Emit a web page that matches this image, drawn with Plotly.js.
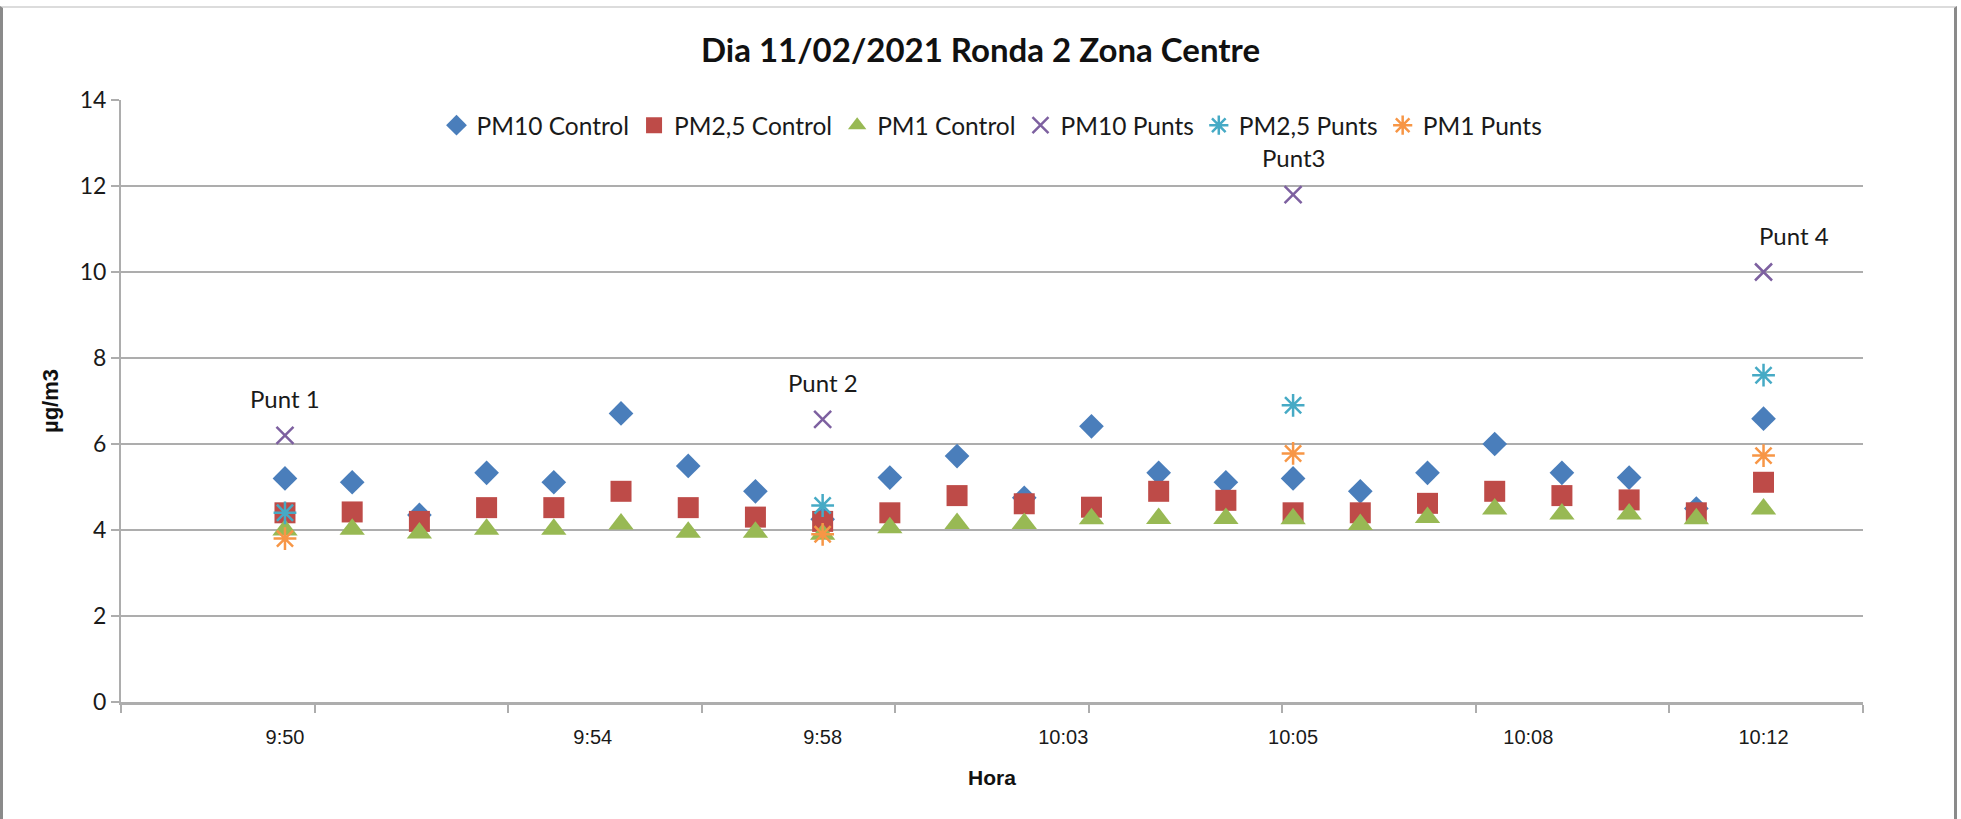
<!DOCTYPE html>
<html><head><meta charset="utf-8">
<script src="https://cdn.plot.ly/plotly-3.0.1.min.js"></script>
<style>
html,body{margin:0;padding:0;background:#fff;overflow:hidden;}
#chart{width:1961px;height:819px;}
#frame{position:absolute;left:0;top:6px;width:1957px;height:820px;border-left:3px solid #8a8a8a;border-right:3px solid #8a8a8a;border-top:2px solid #dcdcdc;pointer-events:none;box-sizing:border-box;}
</style></head><body>
<div id="chart"></div><div id="frame"></div>
<script>
// sample index of each measurement (x position along the route)
const sample = [0,1,2,3,4,5,6,7,8,9,10,11,12,13,14,15,16,17,18,19,20,21,22];
const pm10Control = [5.2,5.11,4.35,5.33,5.11,6.71,5.49,4.9,4.25,5.22,5.72,4.75,6.41,5.33,5.11,5.2,4.9,5.33,6.0,5.33,5.22,4.5,6.59];
const pm25Control = [4.4,4.42,4.2,4.52,4.52,4.9,4.52,4.3,4.2,4.4,4.8,4.61,4.53,4.9,4.69,4.4,4.4,4.62,4.9,4.8,4.7,4.4,5.11];
const pm1Control  = [4.0,4.02,3.93,4.02,4.02,4.14,3.95,3.95,3.9,4.05,4.15,4.15,4.26,4.27,4.27,4.26,4.13,4.29,4.49,4.37,4.37,4.26,4.49];

const puntSample = [0,8,15,22];
const puntLabels = ['Punt 1','Punt 2','Punt3','Punt 4'];
const pm10Punts = [6.2,6.57,11.8,10.0];
const pm25Punts = [4.4,4.57,6.9,7.6];
const pm1Punts  = [3.8,3.9,5.78,5.73];

const timeTickPos  = [0,4.58,8,11.58,15,18.5,22];
const timeTickText = ['9:50','9:54','9:58','10:03','10:05','10:08','10:12'];

const xRange = [-2.44,23.48];
const calibriLike = 'Lato, "Open Sans", sans-serif';
const arialLike = '"Liberation Sans", Arial, sans-serif';

const traces = [
  {name:'PM10 Control', x:sample, y:pm10Control, type:'scatter', mode:'markers',
   marker:{symbol:'diamond', size:19, color:'#4a7ebb'}},
  {name:'PM2,5 Control', x:sample, y:pm25Control, type:'scatter', mode:'markers',
   marker:{symbol:'square', size:21, color:'#be4b48'}},
  {name:'PM1 Control', x:sample, y:pm1Control, type:'scatter', mode:'markers',
   marker:{symbol:'triangle-up', size:22, color:'#98b954'}},
  {name:'PM10 Punts', x:puntSample, y:pm10Punts, type:'scatter', mode:'markers', xaxis:'x2',
   marker:{symbol:'x-thin-open', size:17, color:'#7d60a0', line:{width:2.5, color:'#7d60a0'}}},
  {name:'PM2,5 Punts', x:puntSample, y:pm25Punts, type:'scatter', mode:'markers', xaxis:'x2',
   marker:{symbol:'asterisk-open', size:19, color:'#46aac5', line:{width:2.5, color:'#46aac5'}}},
  {name:'PM1 Punts', x:puntSample, y:pm1Punts, type:'scatter', mode:'markers', xaxis:'x2',
   marker:{symbol:'asterisk-open', size:19, color:'#f79646', line:{width:2.5, color:'#f79646'}}}
];

const labelShift = [0,0,0,30];
const annotations = puntLabels.map((t,i)=>({
  text:t, x:puntSample[i], y:pm10Punts[i], xref:'x', yref:'y',
  showarrow:false, yshift:37, xshift:labelShift[i],
  font:{family:calibriLike, size:24, color:'#1a1a1a'}
}));

const gridCol = '#adadad';
const layout = {
  width:1961, height:819,
  margin:{l:121, r:98, t:100, b:117},
  paper_bgcolor:'#ffffff', plot_bgcolor:'#ffffff',
  font:{family:calibriLike, color:'#1a1a1a'},
  title:{text:'Dia 11/02/2021 Ronda 2 Zona Centre', x:0.5, xanchor:'center',
         y:1-50/819, yanchor:'middle', yref:'container',
         font:{family:calibriLike, size:33, weight:'bold', color:'#111'}},
  showlegend:true,
  legend:{orientation:'h', x:0.5, xanchor:'center', y:0.958, yanchor:'middle',
          bgcolor:'rgba(0,0,0,0)', font:{family:calibriLike, size:24.5, color:'#1a1a1a'},
          itemwidth:30, traceorder:'normal'},
  xaxis:{range:xRange, tickmode:'linear', tick0:xRange[0], dtick:2.88,
         ticks:'outside', ticklen:8, tickwidth:2, tickcolor:gridCol,
         showticklabels:false, showgrid:false, zeroline:false,
         showline:true, linecolor:gridCol, linewidth:2.5},
  xaxis2:{range:xRange, overlaying:'x', anchor:'y', side:'bottom',
          tickmode:'array', tickvals:timeTickPos, ticktext:timeTickText,
          ticks:'', showgrid:false, zeroline:false, showline:false,
          ticklabelstandoff:21,
          tickfont:{family:arialLike, size:20, color:'#1a1a1a'},
          title:{text:'Hora', standoff:23, font:{family:arialLike, size:21, weight:'bold', color:'#111'}}},
  yaxis:{range:[0,14], dtick:2, tick0:0, showgrid:true, gridcolor:gridCol, gridwidth:2.5,
         zeroline:false, showline:true, linecolor:gridCol, linewidth:2,
         ticks:'outside', ticklen:8, tickwidth:2, tickcolor:gridCol,
         tickfont:{family:calibriLike, size:23, color:'#1a1a1a'},
         title:{text:'µg/m3', standoff:15, font:{family:arialLike, size:22, weight:'bold', color:'#111'}}},
  annotations:annotations
};

Plotly.newPlot('chart', traces, layout, {displayModeBar:false, staticPlot:true});
</script>
</body></html>
